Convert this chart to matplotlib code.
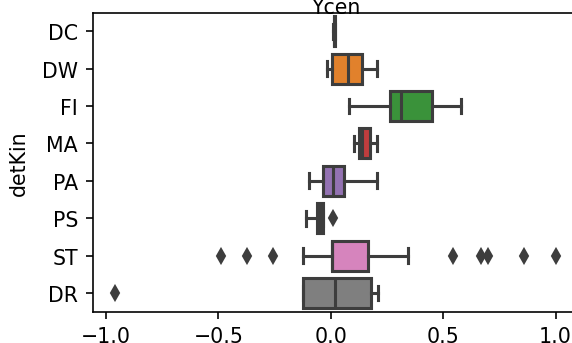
import matplotlib
matplotlib.use("Agg")
import matplotlib.pyplot as plt

categories = ["DC", "DW", "FI", "MA", "PA", "PS", "ST", "DR"]
whislo = [0.012, -0.018, 0.081, 0.104, -0.095, -0.111, -0.122, -0.125]
q1 = [0.014, 0.007, 0.264, 0.125, -0.033, -0.063, 0.007, -0.125]
med = [0.016, 0.078, 0.311, 0.138, 0.012, -0.050, 0.007, 0.020]
q3 = [0.019, 0.141, 0.451, 0.174, 0.061, -0.036, 0.164, 0.178]
whishi = [0.021, 0.207, 0.579, 0.207, 0.204, -0.036, 0.342, 0.212]
fliers = [[], [], [], [], [], [0.012],
          [-0.489, -0.372, -0.255, 0.545, 0.668, 0.700, 0.858, 1.001],
          [-0.959]]
colors = ["#3274a1", "#e1812c", "#3a923a", "#c03d3e", "#9372b2",
          "#845b53", "#d684bd", "#7f7f7f"]
title = "Ycen"
ylabel = "detKin"

dpi = 148
fig = plt.figure(figsize=(572 / dpi, 344 / dpi), dpi=dpi)
W, H = 572, 344
left, right, top, bottom = 92.5, 578, 13.5, 312.7
ax = fig.add_axes([left / W, (H - bottom) / H, (right - left) / W, (bottom - top) / H])

gray = "#3d3d3d"
stats = []
for i, c in enumerate(categories):
    stats.append(dict(whislo=whislo[i], q1=q1[i], med=med[i], q3=q3[i],
                      whishi=whishi[i], fliers=fliers[i], label=c))

bp = ax.bxp(stats, positions=range(len(categories)), widths=0.8,
            orientation="horizontal", patch_artist=True, capwidths=0.4,
            boxprops=dict(linewidth=1.5, edgecolor=gray),
            whiskerprops=dict(linewidth=1.5, color=gray),
            capprops=dict(linewidth=1.5, color=gray),
            medianprops=dict(linewidth=1.5, color=gray),
            flierprops=dict(marker="d", markersize=5, markerfacecolor=gray,
                            markeredgecolor=gray, linestyle="none"))
for patch, col in zip(bp["boxes"], colors):
    patch.set_facecolor(col)

ax.set_ylim(len(categories) - 0.5, -0.5)
ax.set_xlim(-1.06, 1.10)
ax.set_xticks([-1.0, -0.5, 0.0, 0.5, 1.0])
ax.set_yticks(range(len(categories)))
ax.set_yticklabels(categories)
ax.set_ylabel(ylabel, labelpad=6.5)
ax.set_title(title, fontsize=10, y=1.0, pad=0)

fig.savefig("out.png", dpi=dpi)
